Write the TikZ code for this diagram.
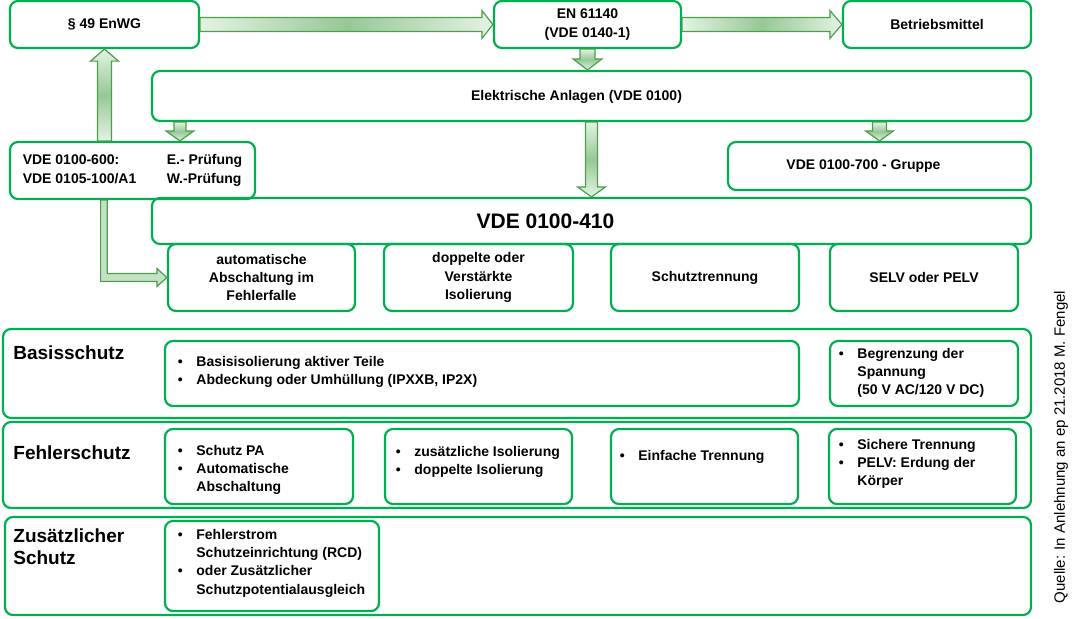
\documentclass[tikz,border=0pt]{standalone}
\usepackage{fontspec}
\setmainfont{Liberation Sans}
\usetikzlibrary{positioning,calc}
\definecolor{boxgreen}{RGB}{0,176,80}
\definecolor{arrline}{RGB}{76,160,76}
\definecolor{arrlight}{RGB}{228,242,228}
\definecolor{arrdark}{RGB}{150,200,150}
\newcommand{\boxfont}{\fontsize{7}{9.2}\selectfont\bfseries}
\newcommand{\bigfont}{\fontsize{10.5}{12}\selectfont\bfseries}
\newcommand{\secfont}{\fontsize{9.5}{11.25}\selectfont\bfseries}
\newcommand{\srcfont}{\fontsize{7.5}{8}\selectfont}
\newcommand{\bul}{\makebox[9.25pt][l]{\textbullet}}
\newcommand{\ind}{\hspace*{9.25pt}}
% fat arrow: [style]{from}{to}{shaft half width}{head half width}{head length}
\newcommand{\fatarrow}[6][]{%
 \coordinate (hb) at ($(#3)!#6!(#2)$);
 \draw[#1] ($(#2)!#4!90:(#3)$) -- ($(hb)!#4!90:(#3)$) -- ($(hb)!#5!90:(#3)$)
 -- (#3) -- ($(hb)!#5!-90:(#3)$) -- ($(hb)!#4!-90:(#3)$)
 -- ($(#2)!#4!-90:(#3)$) -- cycle;}
\begin{document}
\begin{tikzpicture}[x=0.5pt,y=-0.5pt,
box/.style={draw=boxgreen,line width=1.1pt,rounded corners=4pt,inner sep=0pt,
align=center,font=\boxfont},
sz/.style 2 args={minimum width=#1*0.5pt,minimum height=#2*0.5pt},
lst/.style={anchor=north west,inner sep=0pt,align=left,font=\boxfont},
sec/.style={inner sep=0pt,align=left,font=\secfont},
fat/.style={draw=arrline,line width=0.6pt},
hfat/.style={fat,left color=arrlight,right color=arrlight,middle color=arrdark},
vfat/.style={fat,top color=arrlight,bottom color=arrlight,middle color=arrdark}]
 \useasboundingbox (0,0) rectangle (1080,618);
 % upper part
 \node[box,sz={189}{47}] (enwg) at (104.5,24.5) {§ 49 EnWG};
 \node[box,sz={187}{47}] (en) at (587.5,24.5) {EN 61140\\(VDE 0140-1)};
 \node[box,sz={188}{47}] (betr) at (937,24.5) {Betriebsmittel};
 \node[box,sz={879}{50}] (anlagen) at (591.5,96) {};
 \node[font=\boxfont] (anlagent) at ($(anlagen.center)+(-15,1)$)
 {Elektrische Anlagen (VDE 0100)};
 \node[box,sz={245}{57}] (pruef) at (132.5,170.5)
 {\begin{tabular}{@{}p{72pt}@{}l@{}}VDE 0100-600: & E.- Prüfung\\
 VDE 0105-100/A1 & W.-Prüfung\end{tabular}};
 \node[box,sz={303}{48}] (v700) at (879.5,166) {};
 \node[font=\boxfont] (v700t) at ($(v700.center)+(-16,0)$) {VDE 0100-700 - Gruppe};
 \node[box,sz={879}{46}] (v410) at (591.5,221) {};
 \node[font=\bigfont] (v410t) at ($(v410.center)+(-46,0)$) {VDE 0100-410};
 \node[box,sz={187}{67}] (auto) at (261.5,277.5) {automatische\\Abschaltung im\\Fehlerfalle};
 \node[box,sz={189}{67}] (dopp) at (478.5,277.5) {doppelte oder\\Verstärkte\\Isolierung};
 \node[box,sz={188}{67}] (trenn) at (705,277.5) {Schutztrennung};
 \node[box,sz={188}{67}] (selv) at (924,277.5) {SELV oder PELV};
 % arrows
 \fatarrow[hfat]{enwg.east}{en.west}{3.5pt}{7pt}{5.5pt}
 \fatarrow[hfat]{en.east}{betr.west}{3.5pt}{7pt}{6pt}
 \coordinate (a3e) at (en.south |- anlagen.north);
 \fatarrow[vfat]{en.south}{a3e}{3.75pt}{7.25pt}{5.5pt}
 \coordinate (a4s) at ($(anlagen.south west)+(29,0)$);
 \coordinate (a4e) at (a4s |- pruef.north);
 \fatarrow[vfat]{a4s}{a4e}{3pt}{7pt}{5pt}
 \coordinate (a5s) at (v410.north |- anlagen.south);
 \fatarrow[vfat]{a5s}{v410.north}{3pt}{7pt}{5pt}
 \coordinate (a6s) at (v700.north |- anlagen.south);
 \fatarrow[vfat]{a6s}{v700.north}{3.5pt}{7pt}{5pt}
 \coordinate (a7s) at (enwg.south |- pruef.north);
 \fatarrow[vfat]{a7s}{enwg.south}{3.5pt}{7pt}{6pt}
 \coordinate (l0) at ($(pruef.south west)+(95,0)$);
 \coordinate (lc) at (l0 |- auto.west);
 \draw[fat,fill=arrlight!60!arrdark] ($(l0)+(-3.3,0)$) -- ($(lc)+(-3.3,4)$)
 -- ($(auto.west)+(-10,4)$) -- ($(auto.west)+(-10,9)$) -- (auto.west)
 -- ($(auto.west)+(-10,-9)$) -- ($(auto.west)+(-10,-4)$) -- ($(lc)+(3.3,-4)$)
 -- ($(l0)+(3.3,0)$) -- cycle;
 % Basisschutz
 \node[box,sz={1028}{89}] (basis) at (517,373.5) {};
 \node[sec,anchor=west] (basisl) at (13,353) {Basisschutz};
 \node[box,sz={634}{65}] (b1) at (482,373.5) {};
 \node[lst] (b1t) at (177.5,355.5)
 {\bul Basisisolierung aktiver Teile\\\bul Abdeckung oder Umhüllung (IPXXB, IP2X)};
 \node[box,sz={188}{65}] (b2) at (924,373.5) {};
 \node[lst] (b2t) at (838.5,347.5)
 {\bul Begrenzung der\\\ind Spannung\\\ind (50 V AC/120 V DC)};
 % Fehlerschutz
 \node[box,sz={1028}{86}] (fehler) at (517,465) {};
 \node[sec,anchor=west] (fehlerl) at (13,453) {Fehlerschutz};
 \node[box,sz={188}{75}] (f1) at (259,466.5) {};
 \node[lst] (f1t) at (177.5,444.5) {\bul Schutz PA\\\bul Automatische\\\ind Abschaltung};
 \node[box,sz={187}{75}] (f2) at (478.5,466.5) {};
 \node[lst] (f2t) at (395.5,445.5) {\bul zusätzliche Isolierung\\\bul doppelte Isolierung};
 \node[box,sz={187}{75}] (f3) at (704.5,466.5) {};
 \node[lst] (f3t) at (619.5,449.5) {\bul Einfache Trennung};
 \node[box,sz={187}{75}] (f4) at (922.5,466.5) {};
 \node[lst] (f4t) at (838.5,438.5)
 {\bul Sichere Trennung\\\bul PELV: Erdung der\\\ind Körper};
 % Zusaetzlicher Schutz
 \node[box,sz={1026}{98}] (zusatz) at (518,566) {};
 \node[sec,anchor=north west] (zusatzl) at (13,528) {Zusätzlicher\\Schutz};
 \node[box,sz={214}{90}] (z1) at (272,566) {};
 \node[lst] (z1t) at (177.5,528.5) {\bul Fehlerstrom\\\ind Schutzeinrichtung (RCD)\\
 \bul oder Zusätzlicher\\\ind Schutzpotentialausgleich};
 \node[rotate=90,font=\srcfont] (quelle) at (1061,447)
 {Quelle: In Anlehnung an ep 21.2018 M. Fengel};
\end{tikzpicture}
\end{document}
